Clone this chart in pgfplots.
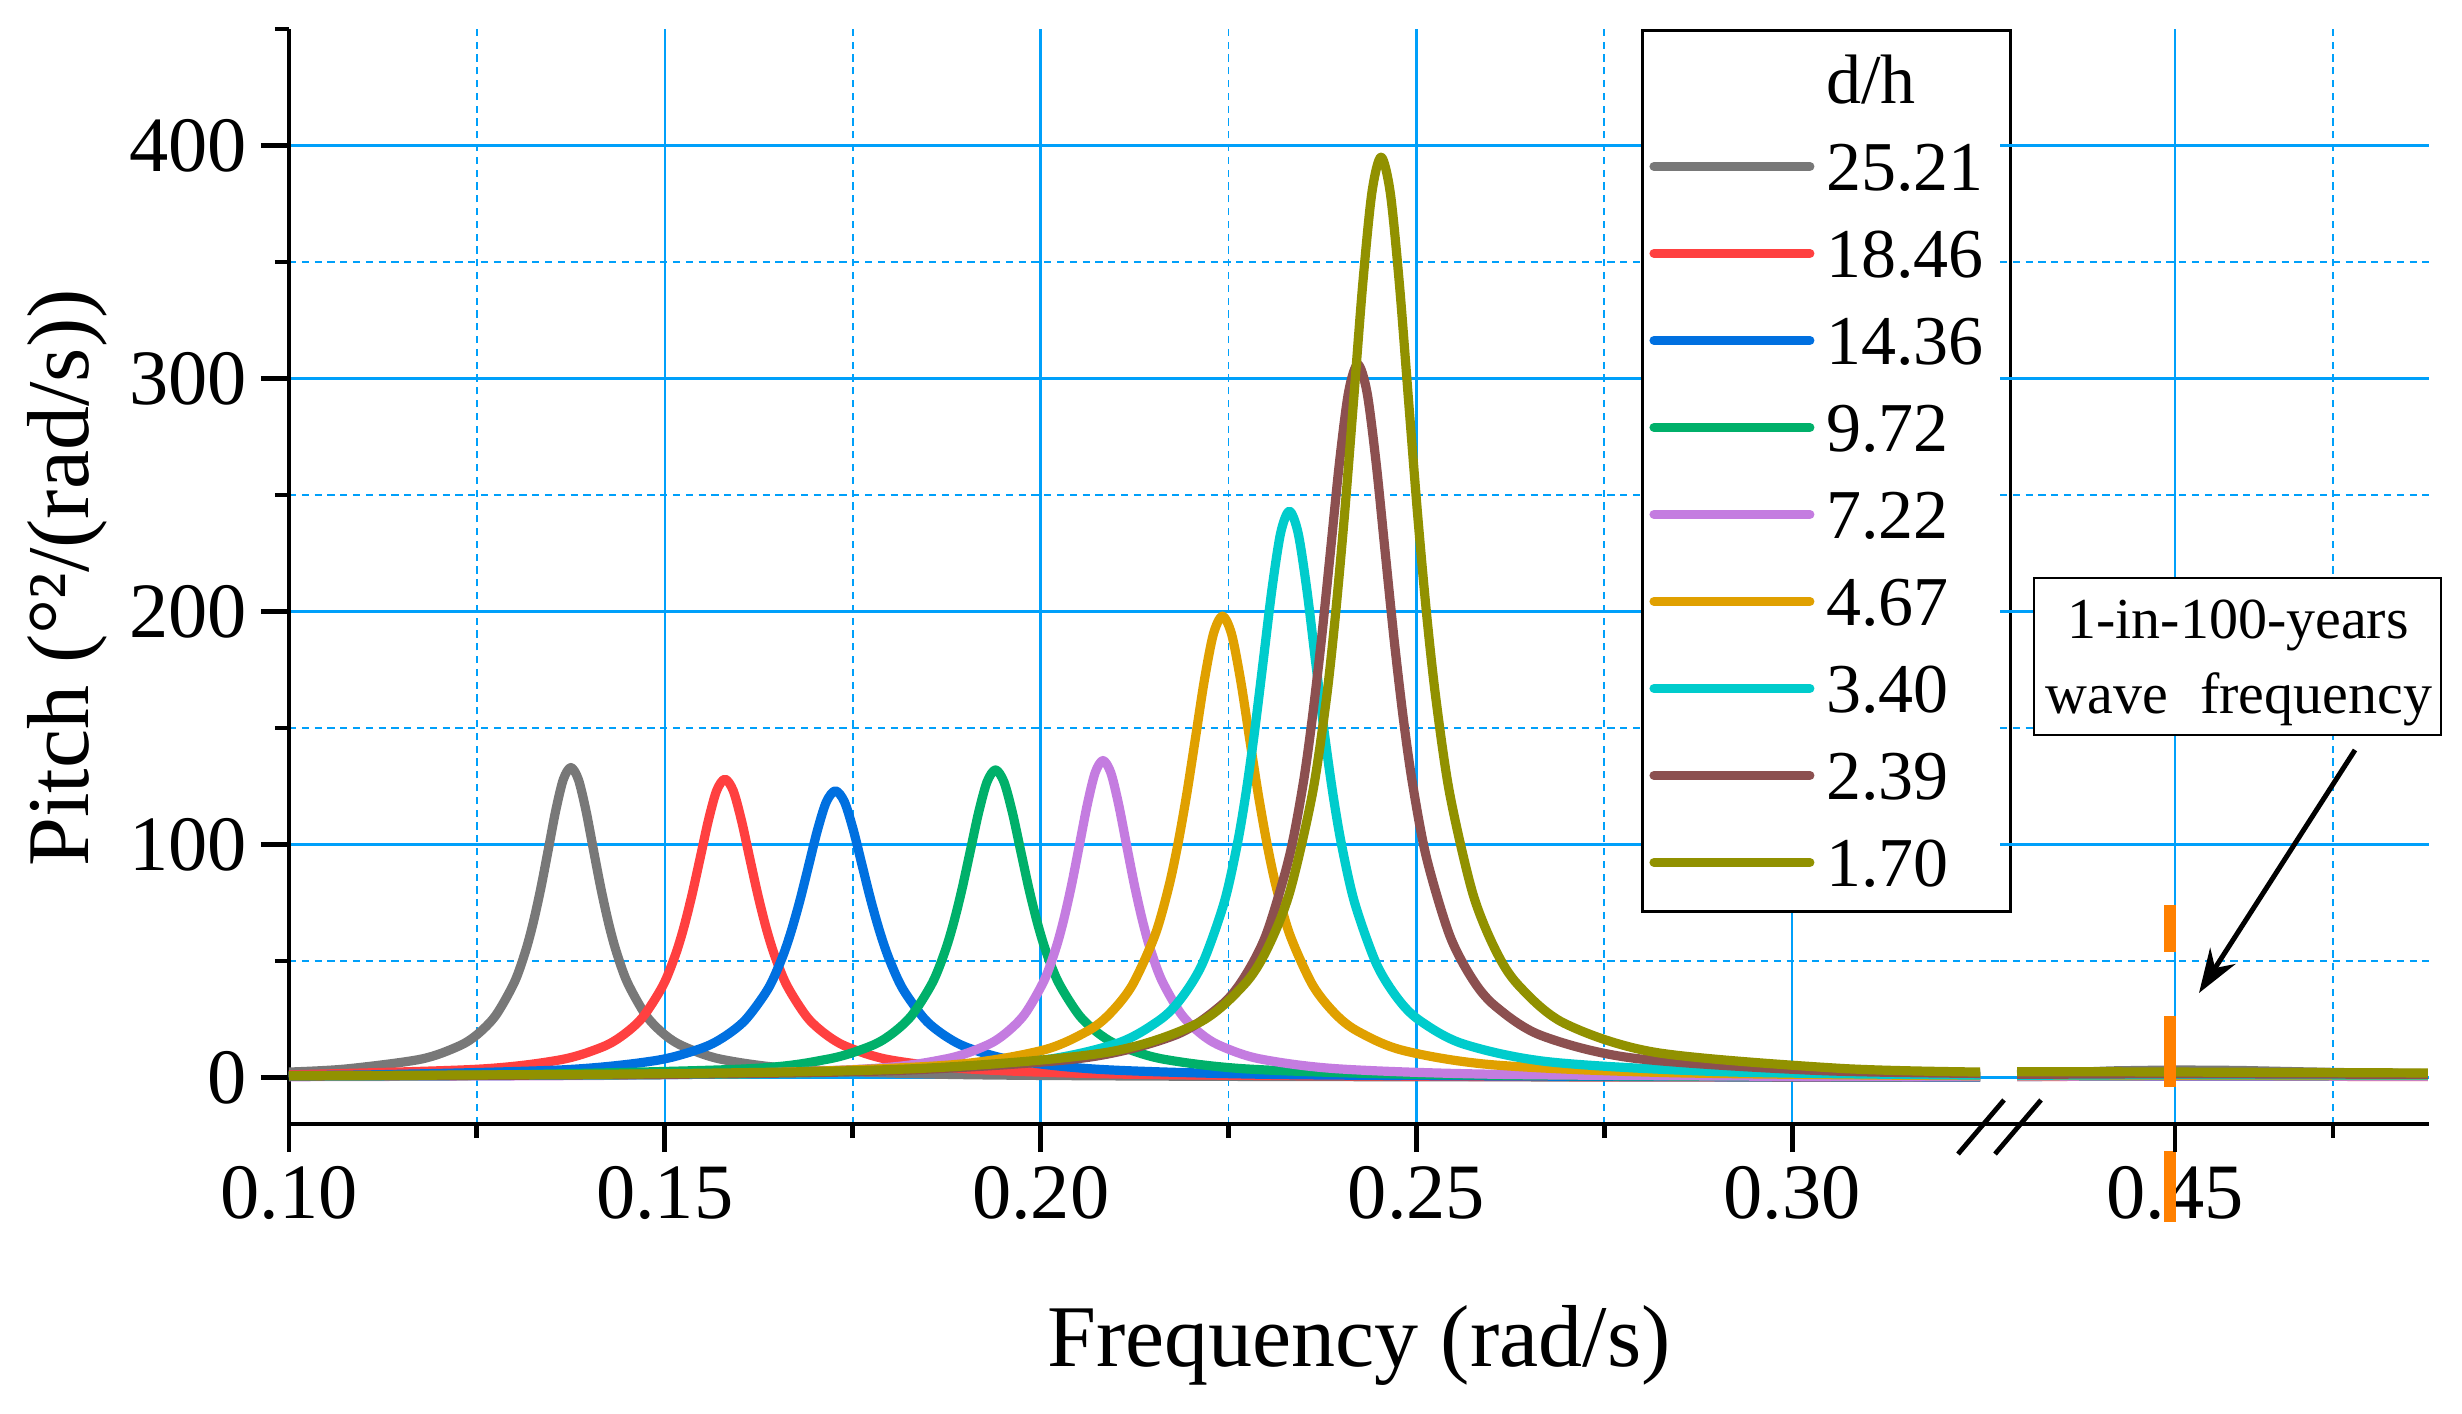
\documentclass[border=0pt]{standalone}
\usepackage{fontspec}
\setmainfont{Liberation Serif}
\usepackage{pgfplots}
\pgfplotsset{compat=1.18}
\usetikzlibrary{arrows.meta}
\definecolor{gridblue}{RGB}{0,160,250}
\definecolor{c1}{RGB}{120,120,120}
\definecolor{c2}{RGB}{255,64,64}
\definecolor{c3}{RGB}{0,112,224}
\definecolor{c4}{RGB}{0,176,106}
\definecolor{c5}{RGB}{196,124,224}
\definecolor{c6}{RGB}{224,160,0}
\definecolor{c7}{RGB}{0,204,204}
\definecolor{c8}{RGB}{140,80,80}
\definecolor{c9}{RGB}{145,145,0}
\definecolor{dorange}{RGB}{255,128,0}
\pgfplotsset{
  common/.style={
    scale only axis, height=273.75pt, ymin=-20, ymax=450,
    axis lines*=left,
    axis line style={line width=1.2pt, black},
    tick align=outside,
    major tick length=7pt, minor tick length=3.5pt,
    tick style={line width=1.2pt, black},
    ytick={0,100,200,300,400}, minor ytick={50,150,250,350},
    grid=both,
    major grid style={line width=0.6pt, gridblue, solid},
    minor grid style={line width=0.45pt, gridblue, dash pattern=on 1.8pt off 1.4pt},
    /pgf/number format/assume math mode=true,
    tick label style={font=\fontsize{19.6}{23}\selectfont},
    every axis plot/.append style={line width=2.3pt, line join=round},
  }
}
\begin{document}
\begin{tikzpicture}
\useasboundingbox (-72.25pt,-72.25pt) rectangle (543.25pt,281pt);
% ---------- left segment ----------
\begin{axis}[common, at={(0pt,0pt)}, anchor=south west, width=427.75pt,
  xmin=0.10, xmax=0.32765,
  xtick={0.10,0.15,0.20,0.25,0.30},
  minor xtick={0.125,0.175,0.225,0.275},
  xticklabel style={/pgf/number format/.cd, fixed, fixed zerofill, precision=2},
  extra y ticks={450}, extra y tick labels={},
  extra y tick style={grid=none, major tick length=3.5pt},
  xlabel={Frequency (rad/s)}, ylabel={Pitch (°²/(rad/s))},
  label style={font=\fontsize{22}{26}\selectfont},
  xlabel style={at={(axis description cs:0.6254,-0.2219)}, anchor=base},
  ylabel style={at={(axis description cs:-0.11689,0.4986)}, anchor=base},
  legend cell align=left,
  legend style={at={(axis description cs:0.7902,1)}, anchor=north west,
    draw=black, line width=0.7pt, fill=white,
    inner xsep=1.75pt, inner ysep=6.25pt,
    font=\fontsize{17.5}{21}\selectfont,
    row sep=9.75pt, column sep=2.95pt,
    nodes={inner sep=0pt, text height=12pt, text depth=0pt, text width=44.25pt, anchor=west}},
  legend image code/.code={\draw[#1, line cap=round] (1.15pt,0pt) -- (40.1pt,0pt);},
]
\addlegendimage{empty legend}
\addlegendentry{d/h}
\addplot[c1, smooth] coordinates {(0.1000,2.3)(0.1075,3.6)(0.1175,7.8)(0.1225,13.3)(0.1250,18.3)(0.1275,26.6)(0.1300,40.9)(0.1315,54.5)(0.1325,66.5)(0.1335,81.1)(0.1345,97.8)(0.1355,114.7)(0.1365,127.9)(0.1375,133)(0.1385,127.9)(0.1395,114.7)(0.1405,97.8)(0.1415,81.1)(0.1425,66.5)(0.1435,54.5)(0.1450,40.9)(0.1475,26.6)(0.1500,18.3)(0.1525,13.3)(0.1575,7.8)(0.1675,3.6)(0.1875,1.3)(0.2200,0.5)(0.2700,0.2)(0.3250,0.1)};
\addlegendentry{25.21}
\addplot[c2, smooth] coordinates {(0.1000,1.1)(0.1250,3.5)(0.1360,7.5)(0.1415,12.8)(0.14425,17.7)(0.1470,25.6)(0.14975,39.4)(0.1514,52.5)(0.1525,64)(0.1536,78.1)(0.1547,94.1)(0.1558,110.3)(0.1569,123.1)(0.1580,128)(0.1591,123.1)(0.1602,110.3)(0.1613,94.1)(0.1624,78.1)(0.1635,64)(0.1646,52.5)(0.16625,39.4)(0.1690,25.6)(0.17175,17.7)(0.1745,12.8)(0.1800,7.5)(0.1910,3.5)(0.2130,1.3)(0.2600,0.4)(0.3250,0.15)};
\addlegendentry{18.46}
\addplot[c3, smooth] coordinates {(0.1000,0.8)(0.1127,1.2)(0.1367,3.3)(0.1487,7.2)(0.1547,12.3)(0.1577,17.0)(0.1607,24.6)(0.1637,37.8)(0.1655,50.4)(0.1667,61.5)(0.1679,75.0)(0.1691,90.4)(0.1703,106.0)(0.1715,118.3)(0.1727,123)(0.1739,118.3)(0.1751,106.0)(0.1763,90.4)(0.1775,75.0)(0.1787,61.5)(0.1799,50.4)(0.1817,37.8)(0.1847,24.6)(0.1877,17.0)(0.1907,12.3)(0.1967,7.2)(0.2087,3.3)(0.2327,1.2)(0.2800,0.4)(0.3250,0.2)};
\addlegendentry{14.36}
\addplot[c4, smooth] coordinates {(0.1000,0.5)(0.1250,0.9)(0.1604,3.6)(0.1716,7.8)(0.1772,13.2)(0.1800,18.2)(0.1828,26.4)(0.1856,40.6)(0.18728,54.1)(0.1884,66)(0.18952,80.5)(0.19064,97.1)(0.19176,113.8)(0.19288,126.9)(0.1940,132)(0.19512,126.9)(0.19624,113.8)(0.19736,97.1)(0.19848,80.5)(0.1996,66)(0.20072,54.1)(0.2024,40.6)(0.2052,26.4)(0.2080,18.2)(0.2108,13.2)(0.2164,7.8)(0.2276,3.6)(0.2500,1.3)(0.2900,0.45)(0.3250,0.25)};
\addlegendentry{9.72}
\addplot[c5, smooth] coordinates {(0.1000,0.3)(0.1500,1.1)(0.1771,3.7)(0.1875,8.0)(0.1927,13.6)(0.1953,18.8)(0.1979,27.2)(0.2005,41.8)(0.20206,55.7)(0.2031,68)(0.20414,82.9)(0.20518,100)(0.20622,117.2)(0.20726,130.8)(0.2083,136)(0.20934,130.8)(0.21038,117.2)(0.21142,100)(0.21246,82.9)(0.2135,68)(0.21454,55.7)(0.2161,41.8)(0.2187,27.2)(0.2213,18.8)(0.2239,13.6)(0.2291,8.0)(0.2395,3.7)(0.2603,1.35)(0.3000,0.45)(0.3250,0.3)};
\addlegendentry{7.22}
\addplot[c6, smooth] coordinates {(0.1000,0.5)(0.1500,1.3)(0.1642,2.0)(0.1882,5.4)(0.2002,11.6)(0.2062,19.8)(0.2092,27.3)(0.2122,39.6)(0.2152,60.9)(0.2170,81.1)(0.2182,99)(0.2194,120.7)(0.2206,145.6)(0.2218,170.7)(0.2230,190.4)(0.2242,198)(0.2254,190.4)(0.2266,170.7)(0.2278,145.6)(0.2290,120.7)(0.2302,99)(0.2314,81.1)(0.2332,60.9)(0.2362,39.6)(0.2392,27.3)(0.2422,19.8)(0.2482,11.6)(0.2602,5.4)(0.2842,2.0)(0.3250,0.7)};
\addlegendentry{4.67}
\addplot[c7, smooth] coordinates {(0.1000,0.5)(0.1500,1.2)(0.1751,2.4)(0.1983,6.6)(0.2099,14.3)(0.2157,24.3)(0.2186,33.5)(0.2215,48.6)(0.2244,74.8)(0.22614,99.6)(0.2273,121.5)(0.22846,148.2)(0.22962,178.7)(0.23078,209.5)(0.23194,233.7)(0.2331,243)(0.23426,233.7)(0.23542,209.5)(0.23658,178.7)(0.23774,148.2)(0.2389,121.5)(0.24006,99.6)(0.2418,74.8)(0.2447,48.6)(0.2476,33.5)(0.2505,24.3)(0.2563,14.3)(0.2679,6.6)(0.2911,2.4)(0.3250,1.0)};
\addlegendentry{3.40}
\addplot[c8, smooth] coordinates {(0.1000,0.6)(0.1500,1.3)(0.1812,3.0)(0.2056,8.3)(0.2178,18.0)(0.2239,30.6)(0.22695,42.2)(0.2300,61.2)(0.23305,94.2)(0.2349,125.4)(0.2361,153)(0.23732,186.6)(0.23854,225)(0.23976,263.8)(0.24098,294.2)(0.2422,306)(0.24342,294.2)(0.24464,263.8)(0.24586,225)(0.24708,186.6)(0.2483,153)(0.24952,125.4)(0.25135,94.2)(0.2544,61.2)(0.25745,42.2)(0.2605,30.6)(0.2666,18.0)(0.2788,8.3)(0.3032,3.0)(0.3250,1.7)};
\addlegendentry{2.39}
\addplot[c9, smooth] coordinates {(0.1000,0.7)(0.1500,1.6)(0.1843,3.9)(0.2087,10.7)(0.2209,23.2)(0.2270,39.5)(0.23005,54.5)(0.2331,79)(0.23615,121.5)(0.2380,161.9)(0.2392,197.5)(0.24042,240.9)(0.24164,290.4)(0.24286,340.5)(0.24408,379.8)(0.2453,395)(0.24652,379.8)(0.24774,340.5)(0.24896,290.4)(0.25018,240.9)(0.2514,197.5)(0.25262,161.9)(0.25445,121.5)(0.2575,79)(0.26055,54.5)(0.2636,39.5)(0.2697,23.2)(0.2819,10.7)(0.3063,3.9)(0.3250,2.3)};
\addlegendentry{1.70}
\end{axis}
% ---------- right segment ----------
\begin{axis}[common, at={(427.75pt,0pt)}, anchor=south west, width=107.25pt,
  xmin=0.4223, xmax=0.4902,
  major tick length=0pt, minor tick length=0pt,
  y axis line style={draw=none},
  yticklabels={},
  xtick={0.45}, minor xtick={0.475},
  xticklabel style={yshift=-7pt, /pgf/number format/.cd, fixed, fixed zerofill, precision=2},
  clip=false,
]
\addplot[c1] coordinates {(0.425,1.2)(0.44,2.8)(0.45,3.2)(0.46,3.0)(0.47,2.4)(0.48,1.9)(0.49,1.6)};
\addplot[c2] coordinates {(0.425,0.4)(0.45,0.5)(0.49,0.4)};
\addplot[c3] coordinates {(0.425,0.4)(0.45,0.6)(0.49,0.5)};
\addplot[c4] coordinates {(0.425,0.5)(0.45,0.7)(0.49,0.6)};
\addplot[c5] coordinates {(0.425,0.5)(0.45,0.6)(0.49,0.5)};
\addplot[c6] coordinates {(0.425,0.7)(0.45,0.9)(0.49,0.8)};
\addplot[c7] coordinates {(0.425,0.9)(0.45,1.2)(0.49,1.0)};
\addplot[c8] coordinates {(0.425,1.3)(0.45,1.6)(0.49,1.3)};
\addplot[c9] coordinates {(0.425,2.4)(0.44,2.4)(0.45,2.3)(0.47,2.1)(0.49,1.9)};
\addplot[dorange, line width=3pt, line cap=butt, dash pattern=on 17.75pt off 16pt] coordinates {(0.4492,-62)(0.4492,74)};
\draw[line width=1.2pt] (axis cs:0.45,-20) -- ++(0pt,-7pt);
\draw[line width=1.2pt] (axis cs:0.475,-20) -- ++(0pt,-3.5pt);
\end{axis}
% break marks
\draw[line width=1.2pt] (417.25pt,-7.5pt) -- (428.75pt,6pt);
\draw[line width=1.2pt] (426.5pt,-7.5pt) -- (438pt,6pt);
% annotation
\draw[line width=0.6pt, fill=white] (436.25pt,97.25pt) rectangle (538pt,136.5pt);
\node[anchor=base, inner sep=0pt, font=\fontsize{14.5}{17}\selectfont] at (487.25pt,121.25pt) {1-in-100-years};
\node[anchor=base, inner sep=0pt, font=\fontsize{14.5}{17}\selectfont] at (487.5pt,102.5pt) {wave\hspace{0.55em}frequency};
\draw[line width=1.25pt, -{Stealth[length=11pt, width=7.5pt]}] (516.5pt,93.5pt) -- (477.5pt,32.75pt);
\end{tikzpicture}
\end{document}
